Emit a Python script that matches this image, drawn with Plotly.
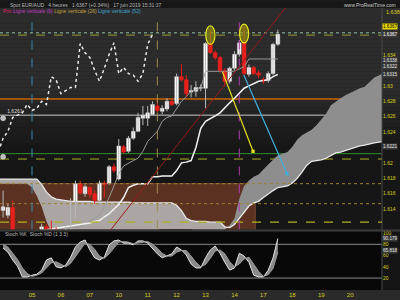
import plotly.graph_objects as go

# ---------------- data ----------------
# 4-hour bars, 6 bars per trading day; day "05" starts at bar 0
bar_idx = list(range(-6, 52))
opens = [1.6138, 1.6132, 1.6142, 1.6110, 1.6099, 1.6105,
         1.6102, 1.6107, 1.6111, 1.6117, 1.6120, 1.6114,
         1.6108, 1.6112, 1.6115, 1.6130, 1.6173, 1.6160,
         1.6168, 1.6160, 1.6151, 1.6174, 1.6173, 1.6195,
         1.6179, 1.6221, 1.6215, 1.6232, 1.6241, 1.6258,
         1.6258, 1.6263, 1.6274, 1.6267, 1.6270, 1.6280,
         1.6277, 1.6312, 1.6308, 1.6292, 1.6293, 1.6297,
         1.6297, 1.6355, 1.6343, 1.6337, 1.6320, 1.6306,
         1.6323, 1.6341, 1.6356, 1.6315, 1.6324, 1.6317,
         1.6308, 1.6307, 1.6316, 1.6354]
closes = [1.6143, 1.6142, 1.6110, 1.6099, 1.6105, 1.6102,
          1.6107, 1.6110, 1.6117, 1.6114, 1.6114, 1.6108,
          1.6112, 1.6115, 1.6130, 1.6173, 1.6161, 1.6169,
          1.6159, 1.6151, 1.6174, 1.6172, 1.6195, 1.6190,
          1.6222, 1.6214, 1.6232, 1.6241, 1.6259, 1.6262,
          1.6265, 1.6276, 1.6268, 1.6271, 1.6280, 1.6276,
          1.6312, 1.6308, 1.6290, 1.6294, 1.6298, 1.6298,
          1.6355, 1.6343, 1.6337, 1.6320, 1.6306, 1.6323,
          1.6341, 1.6356, 1.6316, 1.6324, 1.6316, 1.6314,
          1.6306, 1.6316, 1.6354, 1.6367]
highs = [1.6164, 1.6147, 1.6151, 1.6112, 1.6108, 1.6108,
         1.6111, 1.6114, 1.6121, 1.6120, 1.6125, 1.6116,
         1.6115, 1.6117, 1.6154, 1.6177, 1.6177, 1.6172,
         1.6170, 1.6164, 1.6177, 1.6177, 1.6197, 1.6199,
         1.6231, 1.6223, 1.6235, 1.6246, 1.6265, 1.6274,
         1.6274, 1.6280, 1.6283, 1.6275, 1.6284, 1.6283,
         1.6316, 1.6328, 1.6314, 1.6301, 1.6306, 1.6302,
         1.6357, 1.6373, 1.6346, 1.6339, 1.6323, 1.6325,
         1.6345, 1.6360, 1.6377, 1.6328, 1.6326, 1.6320,
         1.6311, 1.6319, 1.6356, 1.6373]
lows = [1.6129, 1.6128, 1.6105, 1.6094, 1.6093, 1.6097,
        1.6099, 1.6103, 1.6108, 1.6110, 1.6111, 1.6105,
        1.6106, 1.6108, 1.6112, 1.6128, 1.6159, 1.6156,
        1.6155, 1.6147, 1.6150, 1.6155, 1.6172, 1.6187,
        1.6177, 1.6212, 1.6213, 1.6230, 1.6240, 1.6249,
        1.6248, 1.6262, 1.6266, 1.6263, 1.6267, 1.6274,
        1.6275, 1.6306, 1.6286, 1.6285, 1.6286, 1.6293,
        1.6271, 1.6342, 1.6334, 1.6317, 1.6299, 1.6303,
        1.6320, 1.6338, 1.6314, 1.6312, 1.6314, 1.6310,
        1.6303, 1.6304, 1.6314, 1.6352]

days = ["05", "06", "07", "10", "11", "12", "13", "14", "17", "18", "19", "20"]
BARS_PER_DAY = 6

# Ichimoku lines (bars 2..51)
line_idx = list(range(2, 52))
tenkan = [1.6110, 1.6111, 1.6112, 1.6113, 1.6114, 1.6115, 1.6116, 1.6117, 1.6117, 1.6121,
          1.6125, 1.6129, 1.6132, 1.6143, 1.6155, 1.6170, 1.6186, 1.6196, 1.6200, 1.6203,
          1.6206, 1.6215, 1.6228, 1.6235, 1.6241, 1.6254, 1.6259, 1.6261, 1.6271, 1.6280,
          1.6286, 1.6293, 1.6295, 1.6297, 1.6319, 1.6319, 1.6319, 1.6319, 1.6319, 1.6319,
          1.6319, 1.6322, 1.6325, 1.6335, 1.6335, 1.6335, 1.6335, 1.6335, 1.6335, 1.6335]
kijun = [1.6113, 1.6113, 1.6114, 1.6115, 1.6116, 1.6117, 1.6118, 1.6119, 1.6120, 1.6121,
         1.6122, 1.6124, 1.6125, 1.6130, 1.6134, 1.6140, 1.6146, 1.6155, 1.6168, 1.6171,
         1.6173, 1.6173, 1.6173, 1.6182, 1.6182, 1.6183, 1.6183, 1.6183, 1.6190, 1.6200,
         1.6201, 1.6203, 1.6220, 1.6245, 1.6254, 1.6257, 1.6261, 1.6265, 1.6272, 1.6278,
         1.6284, 1.6291, 1.6297, 1.6300, 1.6303, 1.6306, 1.6307, 1.6308, 1.6312, 1.6315]

# Ichimoku cloud (bars -7..73)
cloud_idx = list(range(-7, 74))
span_a = [1.6173, 1.6173, 1.6173, 1.6173, 1.6173, 1.6173, 1.6173, 1.6168, 1.6157, 1.6143,   # -7..2
          1.6124, 1.6111, 1.6109, 1.6109, 1.6109, 1.6109, 1.6109, 1.6109, 1.6109, 1.6109,   # 3..12
          1.6109, 1.6109, 1.6109, 1.6109, 1.6109, 1.6109, 1.6109, 1.6109, 1.6109, 1.6109,   # 13..22
          1.6109, 1.6108, 1.6110, 1.6113, 1.6114, 1.6114, 1.6114, 1.6114, 1.6114, 1.6114,   # 23..32
          1.6114, 1.6111, 1.6111, 1.6111, 1.6111, 1.6111, 1.6111, 1.6113, 1.6119, 1.6128,   # 33..42
          1.6153, 1.6170, 1.6177, 1.6182, 1.6185, 1.6192, 1.6198, 1.6204, 1.6210, 1.6212,   # 43..52
          1.6214, 1.6221, 1.6230, 1.6236, 1.6239, 1.6243, 1.6249, 1.6256, 1.6264, 1.6275,   # 53..62
          1.6280, 1.6284, 1.6288, 1.6291, 1.6295, 1.6297, 1.6299, 1.6305, 1.6311, 1.6314,   # 63..72
          1.6316]                                                                            # 73
span_b = [1.6179, 1.6179, 1.6179, 1.6179, 1.6179, 1.6179, 1.6179, 1.6179, 1.6179, 1.6172,   # -7..2
          1.6162, 1.6156, 1.6153, 1.6152, 1.6151, 1.6150, 1.6150, 1.6150, 1.6150, 1.6150,   # 3..12
          1.6149, 1.6149, 1.6149, 1.6149, 1.6149, 1.6149, 1.6149, 1.6149, 1.6148, 1.6148,   # 13..22
          1.6148, 1.6148, 1.6148, 1.6148, 1.6148, 1.6148, 1.6148, 1.6145, 1.6138, 1.6128,   # 23..32
          1.6125, 1.6124, 1.6124, 1.6124, 1.6123, 1.6123, 1.6123, 1.6117, 1.6116, 1.6120,   # 33..42
          1.6128, 1.6136, 1.6144, 1.6148, 1.6150, 1.6155, 1.6160, 1.6164, 1.6168, 1.6169,   # 43..52
          1.6170, 1.6174, 1.6180, 1.6188, 1.6197, 1.6202, 1.6203, 1.6204, 1.6206, 1.6210,   # 53..62
          1.6213, 1.6214, 1.6216, 1.6219, 1.6220, 1.6222, 1.6223, 1.6225, 1.6226, 1.6227,   # 63..72
          1.6228]                                                                            # 73
CHIKOU_SHIFT = 26

# Stochastic (bars -6..51)
stoch_k = [73.3, 66, 52, 41, 22, 22, 25, 27, 34, 52, 56, 40, 38, 43, 57, 75, 84, 87.6, 70, 56,
           52, 57, 79, 86, 87.6, 82, 82, 79, 86, 86, 82, 73, 63, 56, 59, 63, 75, 70, 61, 45,
           38, 38, 56, 70, 77, 64, 48, 34, 38, 64, 59, 48, 25, 22, 22, 34, 56, 90.179]
stoch_d = [80, 75, 64, 53, 38, 28, 23, 25, 29, 38, 47, 49, 45, 40, 46, 58, 72, 82, 80, 71,
           59, 55, 63, 74, 84, 85, 84, 81, 82, 84, 85, 80, 73, 64, 59, 59, 66, 69, 69, 59,
           48, 40, 44, 55, 68, 70, 63, 49, 40, 45, 54, 57, 44, 32, 23, 26, 37, 65.818]

# drawings / levels
vline_periods = [9, 26, 52]
vline_colors = ["#b03cb0", "#a08a50", "#3a8ab0"]
levels = [  # price, color, dash, width, on top
    (1.6369, "#6f8f7a", "dot", 1.6, False),
    (1.6366, "#9a9a3a", "dash", 1.0, False),
    (1.6283, "#c86400", "solid", 1.4, False),
    (1.6262, "#c8c8c8", "solid", 1.0, False),
    (1.6212, "#2f8f2f", "solid", 1.0, False),
    (1.6205, "#b0b020", "dash", 1.0, False),
    (1.6173, "#a08030", "dot", 1.0, True),
    (1.6147, "#a08030", "dot", 1.0, True),
    (1.6123, "#b0b020", "dash", 1.2, True),
]
zone_rect = (-7.0, 46.3, 1.6100, 1.6173)
trend_line = (16.2, 1.6112, 53.5, 1.6409)
arrows = [((39.4, 1.6320), (45.85, 1.6215), "#e0e020"),
          ((43.8, 1.6316), (52.9, 1.6186), "#40b0e0")]
ellipse_bars = [37, 44]
ellipse_prices = [1.6366, 1.6368]
left_marks = [(-6.0, 1.6258, "1.6261"), (-6.0, 1.6208, "")]

price_ticks = [1.614, 1.616, 1.618, 1.62, 1.624, 1.626, 1.628, 1.63, 1.634]
price_tick_text = ["1.614", "1.616", "1.618", "1.62", "1.624", "1.626", "1.628", "1.63", "1.634"]
# value-label boxes on the price scale: (label position, text, background, text colour)
price_boxes = [(1.6377, "1.6367", "#e8d800", "#000000"),
               (1.6367, "1.6367", "#3a3a3a", "#ffffff"),
               (1.6333, "1.6338", "#3a3a3a", "#e0e0e0"),
               (1.6325, "1.6322", "#3a3a3a", "#e0e0e0"),
               (1.6315, "1.6315", "#3a3a3a", "#e0e0e0"),
               (1.6221, "1.6221", "#3a3a3a", "#e0e0e0")]
stoch_ticks = [20, 40, 60, 80, 100]
stoch_boxes = [(90.5, "90.179"), (69.5, "65.818")]

assert len(opens) == len(closes) == len(highs) == len(lows) == len(bar_idx)
assert len(tenkan) == len(kijun) == len(line_idx)
assert len(span_a) == len(span_b) == len(cloud_idx)
assert len(stoch_k) == len(stoch_d) == len(bar_idx)

# ---------------- figure ----------------
W, H = 400, 300
ML, MR, MT, MB = 0, 18, 0, 10
PH = H - MT - MB
PW = W - ML - MR
X0, X1 = -6.64, 72.6
PRICE_RANGE = [1.611355, 1.640129]
STOCH_RANGE = [-1.2, 102.9]
MAIN_DOM = [(PH - 229) / PH, (PH - 6) / PH]
STOCH_DOM = [0, (PH - 231) / PH]
YEL = "#d8d020"
FONT = "Liberation Sans"
MIN_BODY = 0.00007


def py(px):
    return (PH - px) / PH


def px_x(px):
    return px / PW


fig = go.Figure()

# cloud (left part and right part)
split = cloud_idx.index(41)
for sl, col in [(slice(0, split + 1), "#aba6a3"), (slice(split, None), "#8e8e8e")]:
    fig.add_trace(go.Scatter(x=cloud_idx[sl], y=span_a[sl], mode="lines",
                             line=dict(width=0), showlegend=False, hoverinfo="skip"))
    fig.add_trace(go.Scatter(x=cloud_idx[sl], y=span_b[sl], mode="lines",
                             line=dict(width=0), fill="tonexty", fillcolor=col,
                             showlegend=False, hoverinfo="skip"))
fig.add_trace(go.Scatter(x=cloud_idx, y=span_b, mode="lines",
                         line=dict(color="#e8e8e8", width=1.3), showlegend=False))

# tenkan / kijun
fig.add_trace(go.Scatter(x=line_idx, y=tenkan, mode="lines",
                         line=dict(color="#9a9a9a", width=1), showlegend=False))
fig.add_trace(go.Scatter(x=line_idx, y=kijun, mode="lines",
                         line=dict(color="#f2f2f2", width=1.5), showlegend=False))

# chikou (closes shifted back)
ch_x = [i - CHIKOU_SHIFT for i in bar_idx if i - CHIKOU_SHIFT >= -7]
ch_y = [c for i, c in zip(bar_idx, closes) if i - CHIKOU_SHIFT >= -7]
fig.add_trace(go.Scatter(x=ch_x, y=ch_y, mode="lines",
                         line=dict(color="#e8e8e8", width=1.5, dash="dot"), showlegend=False))

# candles: wicks + bodies
for up, wick_col, body_col, body_line in [(True, "#b8b8b8", "#ffffff", "#c8c8c8"),
                                          (False, "#e8201c", "#e8201c", "#e8201c")]:
    sel = [k for k in range(len(bar_idx)) if (closes[k] >= opens[k]) == up]
    wx, wy = [], []
    for k in sel:
        wx += [bar_idx[k], bar_idx[k], None]
        wy += [lows[k], highs[k], None]
    fig.add_trace(go.Scatter(x=wx, y=wy, mode="lines", line=dict(color=wick_col, width=1),
                             showlegend=False, hoverinfo="skip"))
    fig.add_trace(go.Bar(x=[bar_idx[k] for k in sel],
                         y=[max(abs(closes[k] - opens[k]), MIN_BODY) for k in sel],
                         base=[min(opens[k], closes[k]) for k in sel],
                         width=0.78, marker=dict(color=body_col, line=dict(color=body_line, width=0.5)),
                         showlegend=False))

# left markers
fig.add_trace(go.Scatter(x=[m[0] for m in left_marks], y=[m[1] for m in left_marks],
                         mode="markers+text", text=[m[2] for m in left_marks],
                         textposition="top right", textfont=dict(size=5, color="#dddddd", family=FONT),
                         marker=dict(size=5, color="#bbbbbb", line=dict(color="#eeeeee", width=0.5)),
                         showlegend=False, cliponaxis=False))

# stochastic
fig.add_trace(go.Scatter(x=bar_idx, y=stoch_k, mode="lines", xaxis="x2", yaxis="y2",
                         line=dict(color="#e6e6e6", width=1), showlegend=False))
fig.add_trace(go.Scatter(x=bar_idx, y=stoch_d, mode="lines", xaxis="x2", yaxis="y2",
                         line=dict(color="#9a9a9a", width=1), fill="tonexty",
                         fillcolor="#8a8a8a", showlegend=False))

shapes = []


def lerp(c1, c2, t):
    return "#%02x%02x%02x" % tuple(int(round(a + (b - a) * t)) for a, b in zip(c1, c2))


# background gradient bands (main area + right panel)
top_c, bot_c = (44, 44, 44), (22, 22, 22)
y = 6
while y < 229:
    y2 = min(y + 4, 229)
    t = 0 if y < 85 else min(1, (y - 85) / 60)
    shapes.append(dict(type="rect", xref="paper", yref="paper", x0=0, x1=W / PW,
                       y0=py(y2), y1=py(y), fillcolor=lerp(top_c, bot_c, t),
                       line=dict(width=0), layer="below"))
    y = y2
shapes.append(dict(type="rect", xref="paper", yref="paper", x0=0, x1=W / PW, y0=py(6), y1=py(0),
                   fillcolor="#171717", line=dict(width=0), layer="below"))
shapes.append(dict(type="rect", xref="paper", yref="paper", x0=0, x1=1, y0=0, y1=py(231),
                   fillcolor="#080808", line=dict(width=0), layer="below"))
shapes.append(dict(type="rect", xref="paper", yref="paper", x0=1, x1=W / PW, y0=0, y1=py(231),
                   fillcolor="#141414", line=dict(width=0), layer="below"))
shapes.append(dict(type="rect", xref="paper", yref="paper", x0=0, x1=W / PW, y0=py(231), y1=py(229),
                   fillcolor="#3a3a3a", line=dict(width=0), layer="above"))
shapes.append(dict(type="rect", xref="paper", yref="paper", x0=0, x1=W / PW, y0=py(H), y1=0,
                   fillcolor="#2a2a2a", line=dict(width=0), layer="below"))
shapes.append(dict(type="line", xref="paper", yref="paper", x0=1, x1=1, y0=0, y1=py(6),
                   line=dict(color="#4a4a4a", width=1), layer="above"))

# zone rectangle
shapes.append(dict(type="rect", xref="x", yref="y", x0=zone_rect[0], x1=zone_rect[1],
                   y0=zone_rect[2], y1=zone_rect[3], fillcolor="#5b3222",
                   line=dict(color="#7a4a30", width=1), layer="below"))

for price, col, dash, wd, top in levels:
    shapes.append(dict(type="line", xref="paper", yref="y", x0=0, x1=1, y0=price, y1=price,
                       line=dict(color=col, width=wd, dash=dash),
                       layer="above" if top else "below"))
last = bar_idx[-1]
for n, col in zip(vline_periods, vline_colors):
    xv = last - (n - 1)
    shapes.append(dict(type="line", xref="x", yref="paper", x0=xv, x1=xv,
                       y0=MAIN_DOM[0], y1=py(12), line=dict(color=col, width=1, dash="dash"),
                       layer="above"))
shapes.append(dict(type="line", xref="x", yref="y", x0=trend_line[0], y0=trend_line[1],
                   x1=trend_line[2], y1=trend_line[3], line=dict(color="#9a1818", width=1),
                   layer="above"))
for b, p in zip(ellipse_bars, ellipse_prices):
    shapes.append(dict(type="circle", xref="x", yref="y", x0=b - 0.95, x1=b + 0.95,
                       y0=p - 0.00122, y1=p + 0.00122, fillcolor="rgba(150,150,20,0.65)",
                       line=dict(color="#e8e820", width=1.2), layer="above"))
for v in (80, 20):
    shapes.append(dict(type="line", xref="paper", yref="y2", x0=0, x1=1, y0=v, y1=v,
                       line=dict(color="#8a8a8a", width=1), layer="below"))

annotations = []
for (tx, ty), (hx, hy), col in arrows:
    annotations.append(dict(x=hx, y=hy, ax=tx, ay=ty, xref="x", yref="y", axref="x", ayref="y",
                            text="", showarrow=True, arrowhead=7, arrowsize=0.7,
                            arrowwidth=1.2, arrowcolor=col))
annotations.append(dict(xref="paper", yref="paper", x=px_x(8), y=py(3), xanchor="left",
                        yanchor="middle", showarrow=False,
                        text="Spot EUR/AUD   4 heures   1.6367 (+0.34%)   17 juin 2019 15:31:37",
                        font=dict(size=5, color="#b8b8b8", family=FONT)))
annotations.append(dict(xref="paper", yref="paper", x=px_x(1), y=py(9), xanchor="left",
                        yanchor="middle", showarrow=False,
                        text="<span style='color:#e0206a'>Prix</span> "
                             "<span style='color:#c03cc0'>Ligne verticale (9)</span> "
                             "<span style='color:#c0a040'>Ligne verticale (26)</span> "
                             "<span style='color:#40a8d0'>Ligne verticale (52)</span>",
                        font=dict(size=5, family=FONT)))
annotations.append(dict(xref="paper", yref="paper", x=398 / PW, y=py(3.5), xanchor="right",
                        yanchor="middle", showarrow=False, text="www.ProRealTime.com",
                        font=dict(size=5, color="#c8c8c8", family=FONT)))
annotations.append(dict(xref="paper", yref="paper", x=px_x(3), y=py(234), xanchor="left",
                        yanchor="middle", showarrow=False, text="Stoch %K  Stoch %D (1 3 3)",
                        font=dict(size=5, color="#b8b8b8", family=FONT)))
annotations.append(dict(xref="paper", yref="paper", x=px_x(384), y=py(10), xanchor="left",
                        yanchor="middle", showarrow=False, text="1.638",
                        font=dict(size=5.5, color=YEL, family=FONT)))
for p, txt, bg, fc in price_boxes:
    annotations.append(dict(xref="paper", yref="y", x=1.0, y=p, xanchor="left", yanchor="middle",
                            showarrow=False, text=txt, bgcolor=bg, borderpad=0,
                            font=dict(size=4.6, color=fc, family=FONT)))
for v, txt in stoch_boxes:
    annotations.append(dict(xref="paper", yref="y2", x=1.0, y=v, xanchor="left", yanchor="middle",
                            showarrow=False, text=txt, bgcolor="#3a3a3a", borderpad=0,
                            font=dict(size=4.6, color="#e0e0e0", family=FONT)))

fig.update_layout(
    width=W, height=H, margin=dict(l=ML, r=MR, t=MT, b=MB),
    paper_bgcolor="#1a1a1a", plot_bgcolor="rgba(0,0,0,0)",
    showlegend=False, shapes=shapes, annotations=annotations,
    font=dict(family=FONT, color=YEL), barmode="overlay",
    xaxis=dict(domain=[0, 1], range=[X0, X1], anchor="y", showticklabels=False,
               showgrid=False, zeroline=False, ticks="", fixedrange=True),
    xaxis2=dict(domain=[0, 1], range=[X0, X1], anchor="y2", matches="x",
                tickvals=[k * BARS_PER_DAY for k in range(len(days))], ticktext=days,
                tickfont=dict(size=6, color=YEL, family=FONT), ticks="",
                showgrid=False, zeroline=False),
    yaxis=dict(domain=MAIN_DOM, range=PRICE_RANGE, side="right", tickvals=price_ticks,
               ticktext=price_tick_text, tickfont=dict(size=5, color=YEL, family=FONT),
               ticks="", showgrid=False, zeroline=False),
    yaxis2=dict(domain=STOCH_DOM, range=STOCH_RANGE, side="right", anchor="x2",
                tickvals=stoch_ticks, tickfont=dict(size=5, color=YEL, family=FONT),
                ticks="", showgrid=False, zeroline=False),
)

fig.write_html("out.html")
